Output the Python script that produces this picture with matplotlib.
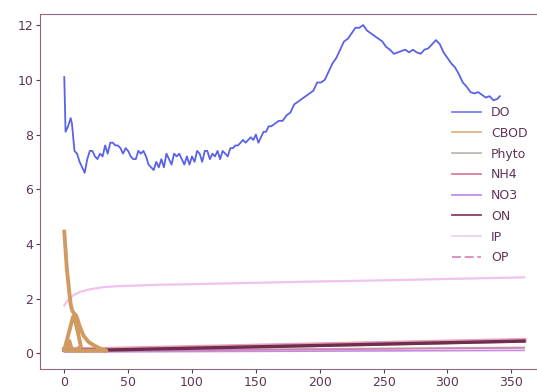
import matplotlib
matplotlib.use("Agg")
import matplotlib.pyplot as plt
from matplotlib.lines import Line2D

# ---------------- data ----------------
do_t = [0, 1, 3, 5, 6, 8, 10, 12, 14, 16, 18, 20, 22, 24, 26, 28, 30, 32, 34, 36,
        38, 40, 42, 44, 46, 48, 50, 52, 54, 56, 58, 60, 62, 64, 66, 68, 70, 72, 74, 76,
        78, 80, 82, 84, 86, 88, 90, 92, 94, 96, 98, 100, 102, 104, 106, 108, 110, 112, 114, 116,
        118, 120, 122, 124, 126, 128, 130, 132, 134, 136, 138, 140, 142, 144, 146, 148, 150, 152, 154, 156,
        158, 160, 162, 165, 168, 171, 174, 177, 180, 183, 186, 189, 192, 195, 198, 201, 204, 207, 210, 213,
        216, 219, 222, 225, 228, 231, 234, 237, 240, 243, 246, 249, 252, 255, 258, 261, 264, 267, 270, 273,
        276, 279, 282, 285, 288, 291, 294, 297, 300, 303, 306, 309, 312, 315, 318, 321, 324, 327, 330, 333,
        336, 339, 341]
do_v = [10.1, 8.1, 8.3, 8.6, 8.4, 7.4, 7.3, 7.0, 6.8, 6.6, 7.1, 7.4, 7.4, 7.2, 7.1, 7.3, 7.2, 7.6, 7.3, 7.7,
        7.7, 7.6, 7.6, 7.5, 7.3, 7.5, 7.4, 7.2, 7.1, 7.1, 7.4, 7.3, 7.4, 7.2, 6.9, 6.8, 6.7, 7.0, 6.8, 7.1,
        6.8, 7.3, 7.1, 6.9, 7.3, 7.2, 7.3, 7.1, 6.9, 7.2, 6.9, 7.2, 7.0, 7.4, 7.3, 7.0, 7.4, 7.4, 7.1, 7.3,
        7.2, 7.4, 7.1, 7.4, 7.3, 7.2, 7.5, 7.5, 7.6, 7.6, 7.7, 7.8, 7.7, 7.8, 7.9, 7.8, 8.0, 7.7, 7.9, 8.1,
        8.1, 8.3, 8.3, 8.4, 8.5, 8.5, 8.7, 8.8, 9.1, 9.2, 9.3, 9.4, 9.5, 9.6, 9.9, 9.9, 10.0, 10.3, 10.6, 10.8,
        11.1, 11.4, 11.5, 11.7, 11.9, 11.9, 12.0, 11.8, 11.7, 11.6, 11.5, 11.4, 11.2, 11.1, 10.95, 11.0, 11.05, 11.1, 11.0, 11.1,
        11.0, 10.95, 11.1, 11.15, 11.3, 11.45, 11.3, 11.0, 10.8, 10.6, 10.45, 10.2, 9.9, 9.75, 9.55, 9.5, 9.55, 9.45, 9.35, 9.4,
        9.25, 9.3, 9.4]

cbod_t = [0, 2, 4, 5, 6, 7, 8, 9, 10, 12, 15, 19, 23, 27, 31, 33, 25, 15, 8, 3, 0, 1, 3, 5, 6, 7, 9, 11, 13, 9, 6, 4, 2, 1]
cbod_v = [4.45, 3.1, 2.2, 1.8, 1.6, 1.5, 1.45, 1.4, 1.3, 1.0, 0.65, 0.42, 0.3, 0.2, 0.12, 0.1, 0.1, 0.1, 0.1, 0.1, 0.12,
          0.3, 0.65, 1.0, 1.2, 1.35, 1.1, 0.7, 0.25, 0.12, 0.12, 0.45, 0.25, 0.15]

phyto_t = [0, 60, 120, 180, 240, 300, 360]
phyto_v = [0.10, 0.12, 0.14, 0.16, 0.18, 0.20, 0.22]

nh4_t = [0, 30, 60, 120, 180, 240, 300, 360]
nh4_v = [0.15, 0.15, 0.18, 0.24, 0.30, 0.36, 0.42, 0.48]

no3_t = [0, 60, 120, 180, 240, 300, 360]
no3_v = [0.05, 0.06, 0.07, 0.08, 0.09, 0.10, 0.11]

on_t = [0, 30, 60, 120, 180, 240, 300, 360]
on_v = [0.12, 0.12, 0.15, 0.21, 0.27, 0.33, 0.39, 0.45]

ip_t = [0, 2, 5, 8, 12, 15, 20, 30, 40, 50, 75, 100, 150, 200, 250, 300, 360]
ip_v = [1.75, 1.9, 2.05, 2.15, 2.24, 2.28, 2.34, 2.42, 2.45, 2.47, 2.51, 2.53, 2.58, 2.63, 2.67, 2.72, 2.78]

op_t = [0, 60, 120, 180, 240, 300, 360]
op_v = [0.08, 0.10, 0.12, 0.14, 0.16, 0.18, 0.20]

x_ticks = [0, 50, 100, 150, 200, 250, 300, 350]
y_ticks = [0, 2, 4, 6, 8, 10, 12]

series_names = ["DO", "CBOD", "Phyto", "NH4", "NO3", "ON", "IP", "OP"]

# ---------------- figure ----------------
txt = "#5e3553"
colors = {"DO": "#7a80ec", "CBOD": "#dcb48a", "Phyto": "#b8bcb0", "NH4": "#e07a98",
          "NO3": "#c88ee6", "ON": "#8a4068", "IP": "#ecd0f0", "OP": "#d88ab8"}

fig = plt.figure(figsize=(5.37, 3.92), dpi=100)
ax = fig.add_axes([0.0745, 0.058, 0.93, 0.906])

ax.plot(phyto_t, phyto_v, color="#b8b8a8", lw=1.2, zorder=2)
ax.plot(no3_t, no3_v, color="#c58be0", lw=1.2, zorder=2)
ax.plot(op_t, op_v, color="#d07fb5", lw=1.2, zorder=2)
ax.plot(nh4_t, nh4_v, color="#e8a0b8", lw=3.4, zorder=3)
ax.plot(on_t, on_v, color="#6e2e4e", lw=2.4, zorder=4)
ax.plot(ip_t, ip_v, color="#efc2ef", lw=1.6, zorder=3)
ax.plot(cbod_t, cbod_v, color="#d09a60", lw=2.8, zorder=5, solid_joinstyle="round")
ax.plot(do_t, do_v, color="#5a62e6", lw=1.3, zorder=6)

ax.set_xlim(-19, 372)
ax.set_ylim(-0.58, 12.4)
ax.set_xticks(x_ticks)
ax.set_yticks(y_ticks)
ax.tick_params(colors=txt, labelsize=9, length=3, pad=2)
for s in ["left", "top", "bottom"]:
    ax.spines[s].set_color("#8a6a80")
ax.spines["right"].set_visible(False)

handles = []
for name in series_names:
    ls = (0, (5, 2)) if name == "OP" else "-"
    handles.append(Line2D([], [], color=colors[name], lw=1.3, ls=ls))
leg = ax.legend(handles, series_names, loc="upper left",
                bbox_to_anchor=(0.815, 0.755), frameon=False, fontsize=9,
                labelspacing=0.62, handlelength=2.3, handletextpad=0.8, borderaxespad=0)
for t in leg.get_texts():
    t.set_color(txt)

fig.savefig("out.png", dpi=100)
